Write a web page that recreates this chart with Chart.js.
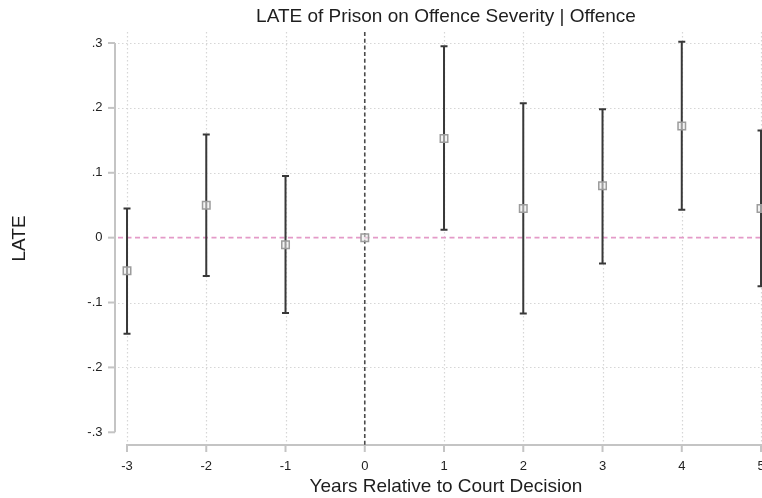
<!DOCTYPE html>
<html>
<head>
<meta charset="utf-8">
<script src="https://cdn.jsdelivr.net/npm/chart.js@4/dist/chart.umd.min.js"></script>
<style>
  html, body { margin: 0; padding: 0; background: #fff; overflow: hidden; }
  #wrap { width: 762px; height: 498px; overflow: hidden; }
  canvas { display: block; }
</style>
</head>
<body>
<div id="wrap"><canvas id="c" width="776" height="498"></canvas></div>
<script>
// Event-study estimates: local average treatment effect by year relative to the court decision
const years  = [-3, -2, -1, 0, 1, 2, 3, 4, 5];
const late   = [-0.051, 0.050, -0.011, 0.000, 0.153, 0.045, 0.080, 0.172, 0.045];
const ciLow  = [-0.148, -0.059, -0.116, null, 0.012, -0.117, -0.040, 0.043, -0.075];
const ciHigh = [0.045, 0.159, 0.095, null, 0.295, 0.207, 0.198, 0.302, 0.165];

// Axis ticks and their printed labels
const xTicks = [-3, -2, -1, 0, 1, 2, 3, 4, 5];
const yTicks = [-0.3, -0.2, -0.1, 0, 0.1, 0.2, 0.3];
const yTickLabels = ['-.3', '-.2', '-.1', '0', '.1', '.2', '.3'];

const titleText = 'LATE of Prison on Offence Severity | Offence';
const xTitle = 'Years Relative to Court Decision';
const yTitle = 'LATE';

const FONT = "'Liberation Sans', Arial, sans-serif";

// Grid, axis lines, reference lines, confidence intervals and the title
const decorations = {
  id: 'decorations',
  beforeDatasetsDraw(chart) {
    const { ctx, chartArea: a, scales: { x, y } } = chart;
    ctx.save();

    // dotted grid
    ctx.strokeStyle = '#d6d6d6';
    ctx.lineWidth = 1.2;
    ctx.setLineDash([1.5, 2.5]);
    xTicks.forEach(v => {
      if (v === 0) return;
      const px = Math.round(x.getPixelForValue(v)) + 0.5;
      ctx.beginPath(); ctx.moveTo(px, a.top); ctx.lineTo(px, a.bottom); ctx.stroke();
    });
    yTicks.forEach(v => {
      if (v === 0 || v === yTicks[0]) return;
      const py = Math.round(y.getPixelForValue(v)) + 0.5;
      ctx.beginPath(); ctx.moveTo(a.left + 2, py); ctx.lineTo(a.right, py); ctx.stroke();
    });

    // axis lines spanning the tick range, with outward tick marks
    ctx.setLineDash([]);
    ctx.strokeStyle = '#c4c4c4';
    ctx.lineWidth = 2;
    const ax = a.left - 1;
    const yTop = y.getPixelForValue(yTicks[yTicks.length - 1]);
    const yBot = y.getPixelForValue(yTicks[0]);
    ctx.beginPath(); ctx.moveTo(ax, yTop); ctx.lineTo(ax, yBot); ctx.stroke();
    yTicks.forEach(v => {
      const py = y.getPixelForValue(v);
      ctx.beginPath(); ctx.moveTo(ax - 7, py); ctx.lineTo(ax, py); ctx.stroke();
    });
    const ay = a.bottom;
    const xL = x.getPixelForValue(xTicks[0]);
    const xR = x.getPixelForValue(xTicks[xTicks.length - 1]);
    ctx.beginPath(); ctx.moveTo(xL - 1, ay); ctx.lineTo(xR + 1, ay); ctx.stroke();
    xTicks.forEach(v => {
      const px = x.getPixelForValue(v);
      ctx.beginPath(); ctx.moveTo(px, ay); ctx.lineTo(px, ay + 7); ctx.stroke();
    });

    // zero line (pink, dashed) and decision-year line (dark, dashed)
    const y0 = y.getPixelForValue(0);
    ctx.strokeStyle = '#e49ac8';
    ctx.lineWidth = 1.6;
    ctx.setLineDash([5, 3.5]);
    ctx.beginPath(); ctx.moveTo(a.left + 2, y0); ctx.lineTo(a.right, y0); ctx.stroke();

    const x0 = x.getPixelForValue(0);
    ctx.strokeStyle = '#4a4a4a';
    ctx.lineWidth = 1.6;
    ctx.setLineDash([4, 2.7]);
    ctx.beginPath(); ctx.moveTo(x0, a.top); ctx.lineTo(x0, a.bottom); ctx.stroke();

    // confidence intervals
    ctx.setLineDash([]);
    ctx.strokeStyle = '#383838';
    ctx.lineWidth = 2;
    years.forEach((yr, i) => {
      if (ciLow[i] === null || ciHigh[i] === null) return;
      const px = x.getPixelForValue(yr);
      const lo = y.getPixelForValue(ciLow[i]);
      const hi = y.getPixelForValue(ciHigh[i]);
      ctx.beginPath();
      ctx.moveTo(px, lo); ctx.lineTo(px, hi);
      ctx.moveTo(px - 3.5, lo); ctx.lineTo(px + 3.5, lo);
      ctx.moveTo(px - 3.5, hi); ctx.lineTo(px + 3.5, hi);
      ctx.stroke();
    });
    ctx.restore();
  },
  afterDraw(chart) {
    const { ctx, chartArea: a } = chart;
    ctx.save();
    ctx.fillStyle = '#1e1e1e';
    ctx.font = '19px ' + FONT;
    ctx.textAlign = 'center';
    ctx.textBaseline = 'middle';
    ctx.fillText(titleText, (a.left + a.right) / 2, 17);
    ctx.restore();
  }
};

new Chart(document.getElementById('c'), {
  type: 'scatter',
  data: {
    datasets: [{
      data: years.map((yr, i) => ({ x: yr, y: late[i] })),
      pointStyle: 'rect',
      pointRadius: 5.3,
      pointHoverRadius: 5.3,
      borderWidth: 1.5,
      borderColor: '#9c9c9c',
      backgroundColor: 'rgba(235,235,235,0.55)'
    }]
  },
  options: {
    responsive: false,
    animation: false,
    events: [],
    layout: { autoPadding: false, padding: { top: 32, left: 0, right: 0, bottom: 0 } },
    plugins: { legend: { display: false }, tooltip: { enabled: false }, title: { display: false } },
    scales: {
      x: {
        type: 'linear',
        min: -3.139,
        max: 5.189,
        grid: { display: false, drawTicks: false },
        border: { display: false },
        afterBuildTicks: s => { s.ticks = xTicks.map(v => ({ value: v })); },
        afterFit: s => { s.height = 53; s.paddingLeft = 0; s.paddingRight = 0; },
        ticks: {
          padding: 14,
          color: '#222',
          font: { family: FONT, size: 13 },
          callback: v => String(v)
        },
        title: {
          display: true,
          text: xTitle,
          color: '#1e1e1e',
          font: { family: FONT, size: 19 },
          padding: { top: 0, bottom: 0 }
        }
      },
      y: {
        type: 'linear',
        min: -0.3196,
        max: 0.3170,
        grid: { display: false, drawTicks: false },
        border: { display: false },
        afterBuildTicks: s => { s.ticks = yTicks.map(v => ({ value: v })); },
        afterFit: s => { s.width = 116; s.paddingTop = 0; s.paddingBottom = 0; },
        ticks: {
          padding: 13.5,
          color: '#222',
          font: { family: FONT, size: 13 },
          callback: v => {
            const i = yTicks.findIndex(t => Math.abs(t - v) < 1e-9);
            return i >= 0 ? yTickLabels[i] : '';
          }
        },
        title: {
          display: true,
          text: yTitle,
          color: '#1e1e1e',
          font: { family: FONT, size: 19 },
          padding: { top: 8, bottom: 0 }
        }
      }
    }
  },
  plugins: [decorations]
});
</script>
</body>
</html>
